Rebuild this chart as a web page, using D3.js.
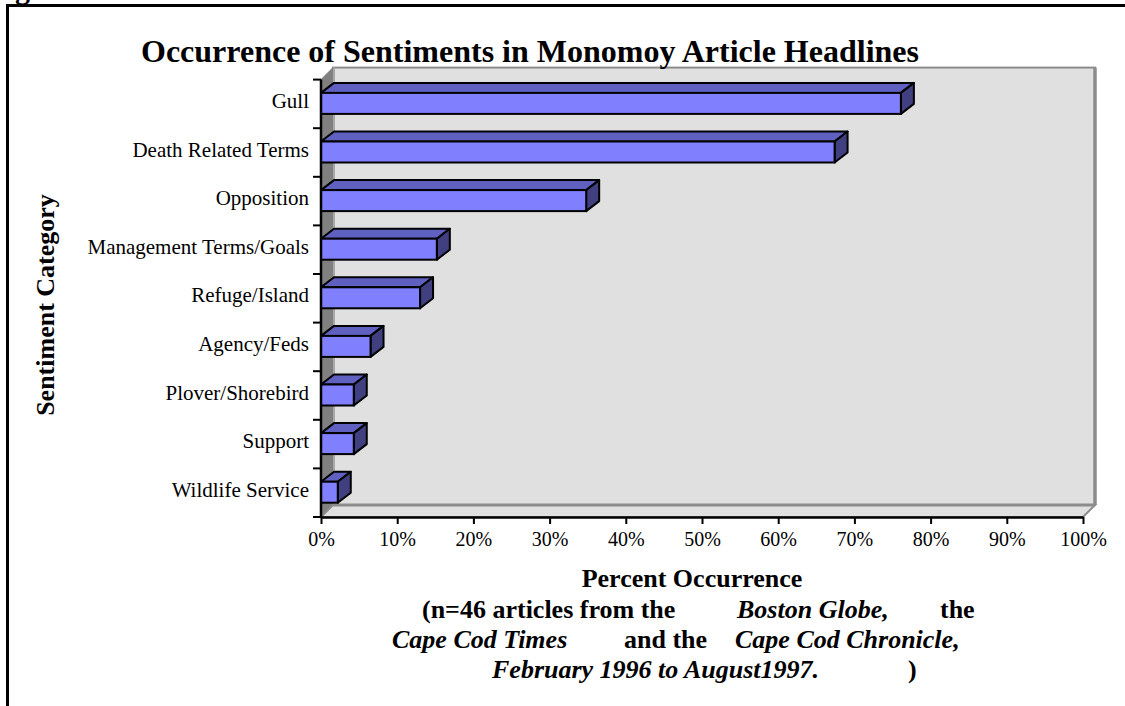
<!DOCTYPE html>
<html><head><meta charset="utf-8">
<script src="https://cdn.jsdelivr.net/npm/d3@7"></script>
<style>
body{margin:0;background:#fff}
svg{display:block}
text{font-family:"Liberation Serif","Times New Roman",serif;fill:#000}
</style>
</head><body>
<svg id="chart" width="1125" height="706"></svg>
<script>
// ---- data ----
const categories = ["Gull","Death Related Terms","Opposition","Management Terms/Goals","Refuge/Island","Agency/Feds","Plover/Shorebird","Support","Wildlife Service"];
const values = [76.1,67.4,34.8,15.2,13.0,6.5,4.3,4.3,2.2];
const xTickValues = [0,10,20,30,40,50,60,70,80,90,100];
const xTickLabels = ["0%","10%","20%","30%","40%","50%","60%","70%","80%","90%","100%"];
const titleText = "Occurrence of Sentiments in Monomoy Article Headlines";
const yTitleText = "Sentiment Category";
const xTitleText = "Percent Occurrence";
const noteLine1 = [["(n=46 articles from the",false],["Boston Globe,",true],["the",false]];
const noteLine2 = [["Cape Cod Times",true],["and the",false],["Cape Cod Chronicle,",true]];
const noteLine3 = [["February 1996 to August1997.",true],[")",false]];

// ---- layout ----
const svg = d3.select("#chart");
const x = d3.scaleLinear().domain([0,100]).range([321,1083]);
const y = d3.scaleBand().domain(categories).range([79.6,517]).padding(0);
const wdx = 12, wdy = 12;   // wall depth
const bdx = 13, bdy = 10;   // bar depth
const x0 = x(0), x1 = x(100), yTop = y.range()[0], yBot = y.range()[1];

// frame
svg.append("rect").attr("x",7.5).attr("y",5.5).attr("width",1300).attr("height",900)
  .attr("fill","none").attr("stroke","#000").attr("stroke-width",3);
svg.append("text").attr("x",15).attr("y",-1).attr("font-size",30).attr("font-weight","bold").text("g");

// back wall
svg.append("rect").attr("x",x0+wdx).attr("y",yTop-wdy).attr("width",x1-x0).attr("height",yBot-yTop)
  .attr("fill","#e0e0e0").attr("stroke","#8c8c8c").attr("stroke-width",2);
svg.append("line").attr("x1",x1+wdx).attr("x2",x1+wdx).attr("y1",yTop-wdy).attr("y2",yBot-wdy)
  .attr("stroke","#8c8c8c").attr("stroke-width",3.5);
// left wall
svg.append("polygon")
  .attr("points",[[x0,yTop],[x0+wdx,yTop-wdy],[x0+wdx,yBot-wdy],[x0,yBot]].map(p=>p.join(",")).join(" "))
  .attr("fill","#808080").attr("stroke","#808080").attr("stroke-width",1);
svg.append("line").attr("x1",x0+wdx+1).attr("x2",x0+wdx+1).attr("y1",yTop-wdy).attr("y2",yBot-wdy)
  .attr("stroke","#a8a8a8").attr("stroke-width",2);
// floor
svg.append("polygon")
  .attr("points",[[x0,yBot],[x0+wdx,yBot-wdy],[x1+wdx,yBot-wdy],[x1,yBot]].map(p=>p.join(",")).join(" "))
  .attr("fill","#e0e0e0").attr("stroke","#8c8c8c").attr("stroke-width",2);
svg.append("line").attr("x1",x0+wdx).attr("x2",x1+wdx).attr("y1",yBot-wdy).attr("y2",yBot-wdy)
  .attr("stroke","#8c8c8c").attr("stroke-width",3);

// bars
const data = categories.map((c,i)=>({c, v:values[i]}));
const bh = 21;
const g = svg.append("g").selectAll("g").data(data).join("g");
const fy = d => y(d.c) + y.step()/2 - 11;
g.append("polygon") // top
  .attr("points", d=>{const xa=x(0), xb=x(d.v), t=fy(d);
     return [[xa,t],[xa+bdx,t-bdy],[xb+bdx,t-bdy],[xb,t]].map(p=>p.join(",")).join(" ");})
  .attr("fill","#6060c0").attr("stroke","#000").attr("stroke-width",2).attr("stroke-linejoin","round");
g.append("polygon") // side
  .attr("points", d=>{const xb=x(d.v), t=fy(d);
     return [[xb,t],[xb+bdx,t-bdy],[xb+bdx,t-bdy+bh],[xb,t+bh]].map(p=>p.join(",")).join(" ");})
  .attr("fill","#404080").attr("stroke","#000").attr("stroke-width",2).attr("stroke-linejoin","round");
g.append("rect") // front
  .attr("x",x(0)).attr("y",fy).attr("width",d=>x(d.v)-x(0)).attr("height",bh)
  .attr("fill","#8080ff").attr("stroke","#000").attr("stroke-width",2);

// y axis
const yEdges = categories.map(c=>y(c)).concat([yBot]);
svg.append("g").selectAll("line").data(yEdges).join("line")
  .attr("x1",x0-8).attr("x2",x0).attr("y1",d=>d).attr("y2",d=>d)
  .attr("stroke","#000").attr("stroke-width",2);
svg.append("line").attr("x1",x0).attr("x2",x0).attr("y1",yTop).attr("y2",yBot+1)
  .attr("stroke","#000").attr("stroke-width",2.5);
svg.append("g").selectAll("text").data(categories).join("text")
  .attr("x",309).attr("y",d=>y(d)+y.step()/2+4).attr("text-anchor","end")
  .attr("font-size",21).text(d=>d);

// x axis
const xAxis = d3.axisBottom(x).tickValues(xTickValues)
  .tickFormat((d,i)=>xTickLabels[i]).tickSize(7).tickPadding(8).tickSizeOuter(0);
const xa = svg.append("g").attr("transform",`translate(0,${yBot})`).call(xAxis);
xa.select(".domain").attr("stroke","#000").attr("stroke-width",2.5);
xa.selectAll(".tick line").attr("stroke","#000").attr("stroke-width",2);
xa.selectAll(".tick text").attr("font-family","Liberation Serif, Times New Roman, serif")
  .attr("font-size",20).attr("fill","#000");

// titles
svg.append("text").attr("x",530).attr("y",62).attr("text-anchor","middle")
  .attr("font-size",32).attr("font-weight","bold").text(titleText);
svg.append("text").attr("transform","translate(54,305) rotate(-90)").attr("text-anchor","middle")
  .attr("font-size",26).attr("font-weight","bold").text(yTitleText);
svg.append("text").attr("x",692).attr("y",587).attr("text-anchor","middle")
  .attr("font-size",26).attr("font-weight","bold").text(xTitleText);

function noteLine(segs, xs, yb){
  segs.forEach((s,i)=>{
    svg.append("text").attr("x",xs[i]).attr("y",yb).attr("font-size",26).attr("font-weight","bold")
      .attr("font-style", s[1]?"italic":"normal").text(s[0]);
  });
}
noteLine(noteLine1,[422,737,940],617.5);
noteLine(noteLine2,[392,624,735],648);
noteLine(noteLine3,[492,908],678);
</script>
</body></html>
